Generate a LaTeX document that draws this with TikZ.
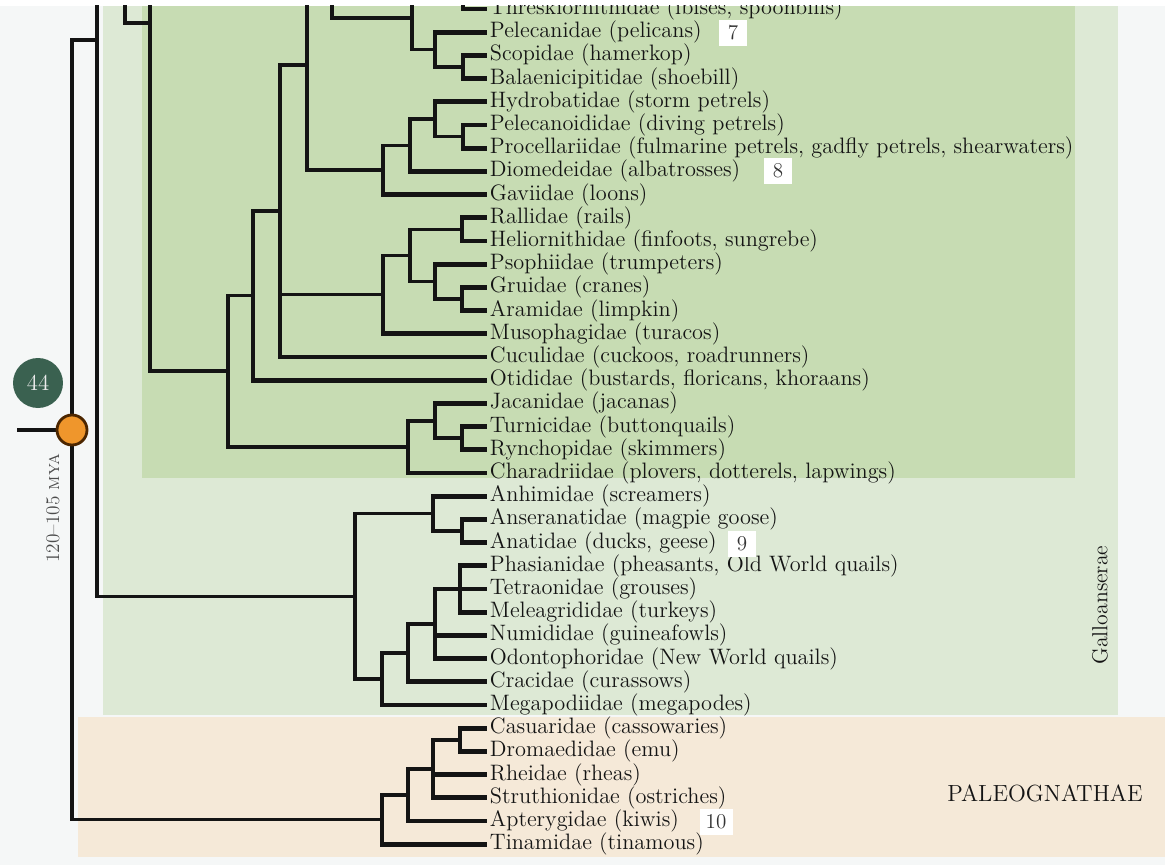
\documentclass[tikz,border=0pt]{standalone}
\usepackage{fontspec}
\usepackage{tikz}

\definecolor{darksage}{HTML}{C7DCB3}
\definecolor{lightsage}{HTML}{DDE9D5}
\definecolor{paleobg}{HTML}{F5E9D8}
\definecolor{pagebg}{HTML}{F5F7F7}
\definecolor{inkblk}{HTML}{141414}
\definecolor{dotorange}{HTML}{EF962C}
\definecolor{dotgreen}{HTML}{3A6150}

\begin{document}
\begin{tikzpicture}[x=0.02cm, y=-0.02cm, line join=miter,
  br/.style={draw=inkblk, line width=2pt},
  tip/.style={draw=inkblk, line width=2.8pt},
  leaf/.style={anchor=west, inner xsep=1.5pt, inner ysep=0pt, text=inkblk, font=\fontsize{12.7}{14}\selectfont},
  numbox/.style={fill=white, minimum width=0.56cm, minimum height=0.52cm, inner sep=1pt, text=black!80, font=\fontsize{12}{14}\selectfont}]
\useasboundingbox (0,0) rectangle (1165,865);
% panels
\fill[pagebg] (0,0) rectangle (1165,865);
\fill[white] (0,0) rectangle (1165,6);
\fill[lightsage] (103,6) rectangle (1118,715);
\fill[darksage] (142,6) rectangle (1075,478);
\fill[paleobg] (78,717) rectangle (1165,857);

\begin{scope}
\clip (0,6) rectangle (1165,865);
% families
\node (thr) at (487,9) [leaf] {Threskiornithidae (ibises, spoonbills)};
\node (pel) at (487,32.2) [leaf] {Pelecanidae (pelicans)};
\node (sco) at (487,55.4) [leaf] {Scopidae (hamerkop)};
\node (bal) at (487,78.6) [leaf] {Balaenicipitidae (shoebill)};
\node (hyd) at (487,101.8) [leaf] {Hydrobatidae (storm petrels)};
\node (pcn) at (487,125) [leaf] {Pelecanoididae (diving petrels)};
\node (pro) at (487,148.2) [leaf] {Procellariidae (fulmarine petrels, gadfly petrels, shearwaters)};
\node (dio) at (487,171.4) [leaf] {Diomedeidae (albatrosses)};
\node (gav) at (487,194.6) [leaf] {Gaviidae (loons)};
\node (ral) at (487,217.8) [leaf] {Rallidae (rails)};
\node (hel) at (487,241) [leaf] {Heliornithidae (finfoots, sungrebe)};
\node (pso) at (487,264.2) [leaf] {Psophiidae (trumpeters)};
\node (gru) at (487,287.4) [leaf] {Gruidae (cranes)};
\node (ara) at (487,310.6) [leaf] {Aramidae (limpkin)};
\node (mus) at (487,333.8) [leaf] {Musophagidae (turacos)};
\node (cuc) at (487,357) [leaf] {Cuculidae (cuckoos, roadrunners)};
\node (oti) at (487,380.2) [leaf] {Otididae (bustards, floricans, khoraans)};
\node (jac) at (487,403.4) [leaf] {Jacanidae (jacanas)};
\node (tur) at (487,426.6) [leaf] {Turnicidae (buttonquails)};
\node (ryn) at (487,449.8) [leaf] {Rynchopidae (skimmers)};
\node (cha) at (487,473) [leaf] {Charadriidae (plovers, dotterels, lapwings)};
\node (anh) at (487,496.2) [leaf] {Anhimidae (screamers)};
\node (ans) at (487,519.4) [leaf] {Anseranatidae (magpie goose)};
\node (ana) at (487,542.6) [leaf] {Anatidae (ducks, geese)};
\node (pha) at (487,565.8) [leaf] {Phasianidae (pheasants, Old World quails)};
\node (tet) at (487,589) [leaf] {Tetraonidae (grouses)};
\node (mel) at (487,612.2) [leaf] {Meleagrididae (turkeys)};
\node (num) at (487,635.4) [leaf] {Numididae (guineafowls)};
\node (odo) at (487,658.6) [leaf] {Odontophoridae (New World quails)};
\node (cra) at (487,681.8) [leaf] {Cracidae (curassows)};
\node (meg) at (487,705) [leaf] {Megapodiidae (megapodes)};
\node (cas) at (487,728.2) [leaf] {Casuaridae (cassowaries)};
\node (dro) at (487,751.4) [leaf] {Dromaedidae (emu)};
\node (rhe) at (487,774.6) [leaf] {Rheidae (rheas)};
\node (str) at (487,797.8) [leaf] {Struthionidae (ostriches)};
\node (apt) at (487,821) [leaf] {Apterygidae (kiwis)};
\node (tin) at (487,844.2) [leaf] {Tinamidae (tinamous)};
% branch points
\coordinate (ibisnd) at (463,-14);
\coordinate (scobal) at (463,67);
\coordinate (pelgrp) at (435,49.6);
\coordinate (ciconi) at (412,17.8);
\coordinate (upper) at (332,-40);
\coordinate (procH) at (463,136.6);
\coordinate (procG) at (435,119.2);
\coordinate (procF) at (410,145.3);
\coordinate (loonE) at (383,170);
\coordinate (aquat) at (307,65);
\coordinate (railK1) at (462,229.4);
\coordinate (cranK2) at (462,299);
\coordinate (cranK3) at (435,281.6);
\coordinate (gruiK4) at (410,255.5);
\coordinate (gruiK5) at (383,294.6);
\coordinate (cuck) at (280,211);
\coordinate (otid) at (253,295.6);
\coordinate (turnM1) at (462,438.2);
\coordinate (charM2) at (435,420.8);
\coordinate (charM3) at (408,446.9);
\coordinate (neoN) at (228,371.2);
\coordinate (neoO) at (150,23);
\coordinate (neoUp) at (200,-40);
\coordinate (neoP) at (125,-40);
\coordinate (neognath) at (97,40);
\coordinate (anseQ1) at (462,531);
\coordinate (anseQ2) at (433,513.6);
\coordinate (phasG1) at (460,589);
\coordinate (phasG2) at (435,623.8);
\coordinate (cracG3) at (408,652.8);
\coordinate (gallG4) at (382,678.9);
\coordinate (galloans) at (355,596.3);
\coordinate (ratP1) at (460,739.8);
\coordinate (ratP2) at (433,768.8);
\coordinate (ratP3) at (408,794.9);
\coordinate (paleo) at (382,819.6);
\coordinate (rt) at (72,430);
\coordinate (stem) at (17,430);
% inner branches
\draw[br] (stem) -- (rt);
\draw[br] (rt) |- (neognath);
\draw[br] (rt) |- (paleo);
\draw[br] (neognath) |- (neoP);
\draw[br] (neognath) |- (galloans);
\draw[br] (neoP) |- (neoO);
\draw[br] (neoO) |- (neoUp);
\draw[br] (neoO) |- (neoN);
\draw[br] (neoN) |- (otid);
\draw[br] (neoN) |- (charM3);
\draw[br] (otid) |- (cuck);
\draw[br] (cuck) |- (aquat);
\draw[br] (cuck) |- (gruiK5);
\draw[br] (aquat) |- (upper);
\draw[br] (aquat) |- (loonE);
\draw[br] (upper) |- (ciconi);
\draw[br] (ciconi) |- (ibisnd);
\draw[br] (ciconi) |- (pelgrp);
\draw[br] (pelgrp) |- (scobal);
\draw[br] (loonE) |- (procF);
\draw[br] (procF) |- (procG);
\draw[br] (procG) |- (procH);
\draw[br] (gruiK5) |- (gruiK4);
\draw[br] (gruiK4) |- (railK1);
\draw[br] (gruiK4) |- (cranK3);
\draw[br] (cranK3) |- (cranK2);
\draw[br] (charM3) |- (charM2);
\draw[br] (charM2) |- (turnM1);
\draw[br] (galloans) |- (anseQ2);
\draw[br] (galloans) |- (gallG4);
\draw[br] (anseQ2) |- (anseQ1);
\draw[br] (gallG4) |- (cracG3);
\draw[br] (cracG3) |- (phasG2);
\draw[br] (phasG2) |- (phasG1);
\draw[br] (paleo) |- (ratP3);
\draw[br] (ratP3) |- (ratP2);
\draw[br] (ratP2) |- (ratP1);
% tips
\draw[tip] (ibisnd) |- (thr.west);
\draw[tip] (pelgrp) |- (pel.west);
\draw[tip] (scobal) |- (sco.west);
\draw[tip] (scobal) |- (bal.west);
\draw[tip] (procG) |- (hyd.west);
\draw[tip] (procH) |- (pcn.west);
\draw[tip] (procH) |- (pro.west);
\draw[tip] (procF) |- (dio.west);
\draw[tip] (loonE) |- (gav.west);
\draw[tip] (railK1) |- (ral.west);
\draw[tip] (railK1) |- (hel.west);
\draw[tip] (cranK3) |- (pso.west);
\draw[tip] (cranK2) |- (gru.west);
\draw[tip] (cranK2) |- (ara.west);
\draw[tip] (gruiK5) |- (mus.west);
\draw[tip] (cuck) |- (cuc.west);
\draw[tip] (otid) |- (oti.west);
\draw[tip] (charM2) |- (jac.west);
\draw[tip] (turnM1) |- (tur.west);
\draw[tip] (turnM1) |- (ryn.west);
\draw[tip] (charM3) |- (cha.west);
\draw[tip] (anseQ2) |- (anh.west);
\draw[tip] (anseQ1) |- (ans.west);
\draw[tip] (anseQ1) |- (ana.west);
\draw[tip] (phasG1) |- (pha.west);
\draw[tip] (phasG1) |- (tet.west);
\draw[tip] (phasG1) |- (mel.west);
\draw[tip] (phasG2) |- (num.west);
\draw[tip] (phasG2) |- (odo.west);
\draw[tip] (cracG3) |- (cra.west);
\draw[tip] (gallG4) |- (meg.west);
\draw[tip] (ratP1) |- (cas.west);
\draw[tip] (ratP1) |- (dro.west);
\draw[tip] (ratP2) |- (rhe.west);
\draw[tip] (ratP2) |- (str.west);
\draw[tip] (ratP3) |- (apt.west);
\draw[tip] (paleo) |- (tin.west);
\end{scope}

% markers and labels
\node (rootdot) at (rt) [circle, draw=black!70!orange, line width=1.6pt, fill=dotorange, minimum size=0.6cm, inner sep=0pt] {};
\node (cal) at (38,383) [circle, fill=dotgreen, minimum size=1cm, inner sep=0pt, text=white!85!gray, font=\fontsize{13}{15}\selectfont] {44};
\node (mya) at (53,508) [rotate=90, text=black!70, font=\fontsize{11}{12}\selectfont] {120--105 \textsc{mya}};
\node (gallo) at (1100,605) [rotate=90, text=inkblk, font=\fontsize{12.4}{14}\selectfont] {Galloanserae};
\node (paleolab) at (1045,793) [text=inkblk, font=\fontsize{13.3}{15}\selectfont] {PALEOGNATHAE};
\node (no7) at (733,33) [numbox] {7};
\node (no8) at (778,171) [numbox] {8};
\node (no9) at (742,544) [numbox] {9};
\node (no10) at (716,822) [numbox, minimum width=0.66cm] {10};
\end{tikzpicture}
\end{document}
